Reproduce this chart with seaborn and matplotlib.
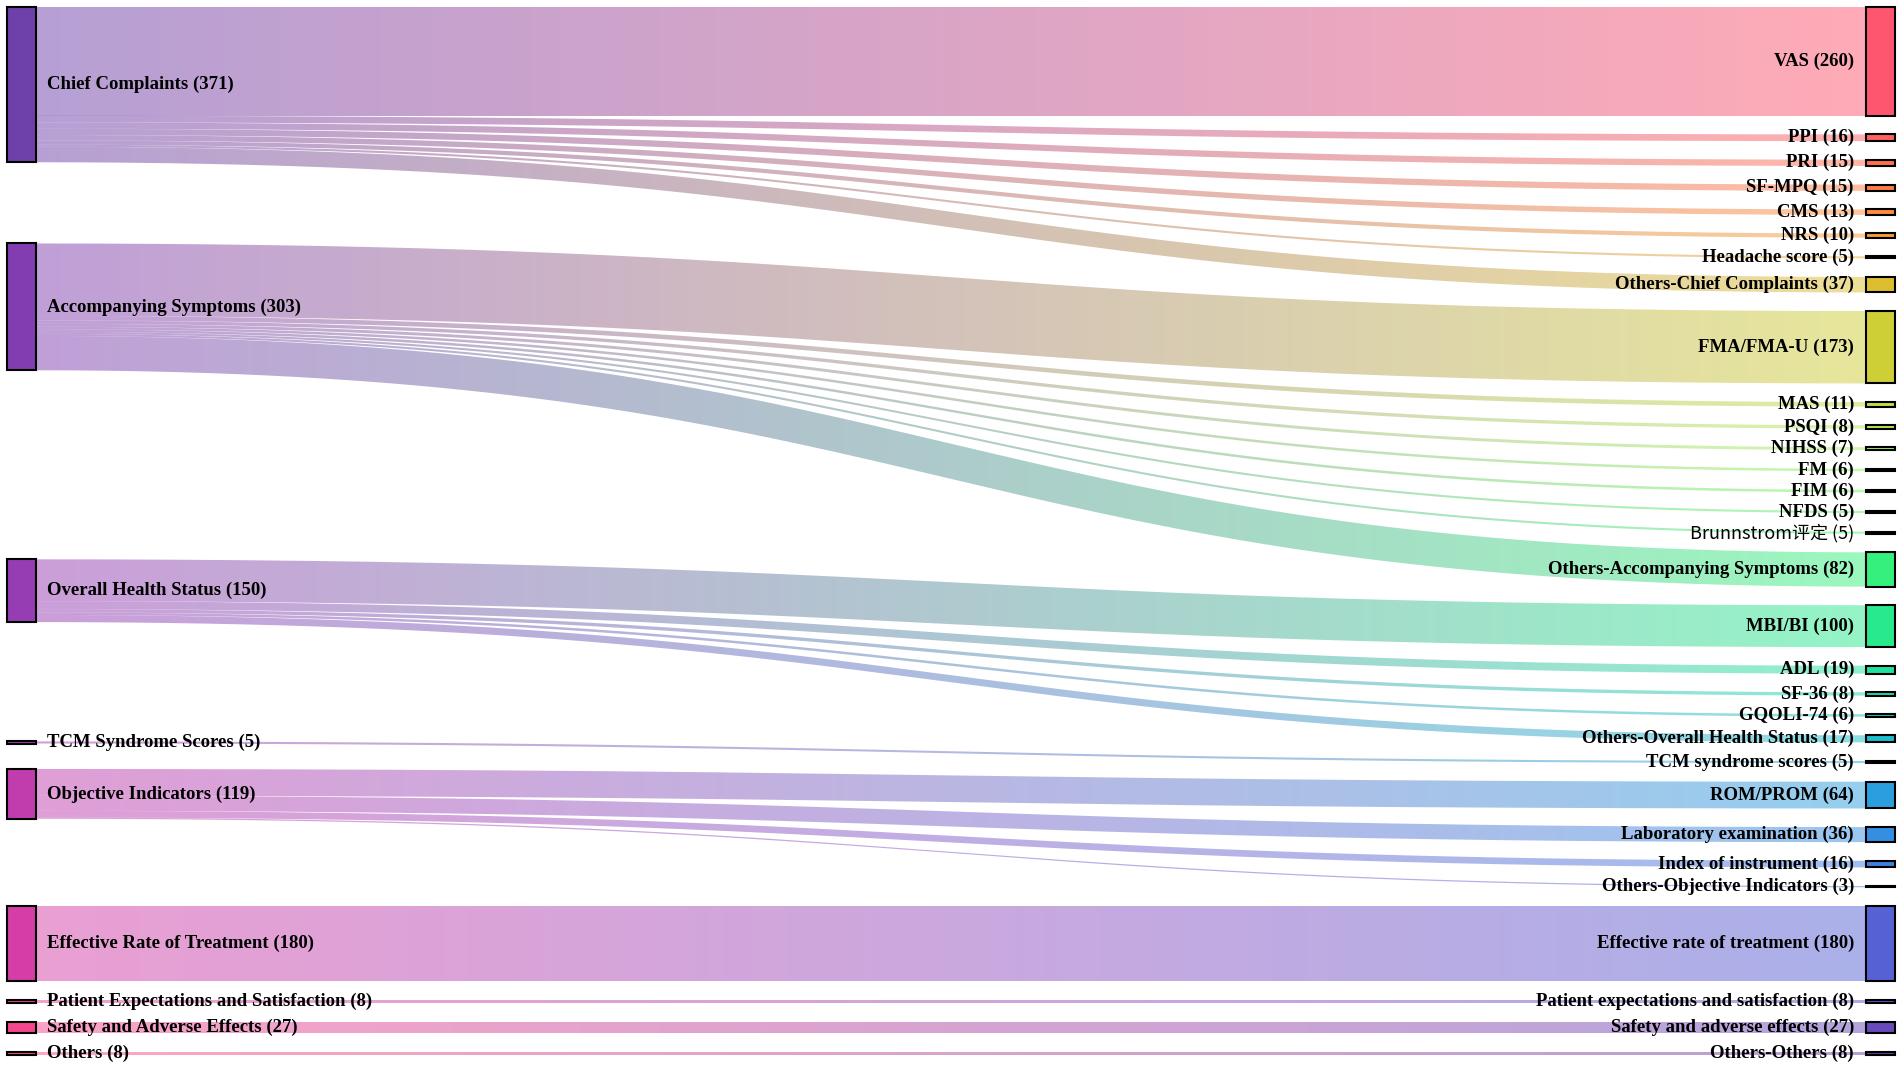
import numpy as np
import matplotlib
matplotlib.use("Agg")
import matplotlib.pyplot as plt
from matplotlib.path import Path
from matplotlib.patches import PathPatch, Rectangle
import seaborn as sns

# left column (outcome categories)
sources = ["Chief Complaints", "Accompanying Symptoms", "Overall Health Status",
           "TCM Syndrome Scores", "Objective Indicators", "Effective Rate of Treatment",
           "Patient Expectations and Satisfaction", "Safety and Adverse Effects", "Others"]

# right column (individual measures) + the category each one belongs to
targets = ["VAS", "PPI", "PRI", "SF-MPQ", "CMS", "NRS", "Headache score",
           "Others-Chief Complaints",
           "FMA/FMA-U", "MAS", "PSQI", "NIHSS", "FM", "FIM", "NFDS", "Brunnstrom评定",
           "Others-Accompanying Symptoms",
           "MBI/BI", "ADL", "SF-36", "GQOLI-74", "Others-Overall Health Status",
           "TCM syndrome scores",
           "ROM/PROM", "Laboratory examination", "Index of instrument",
           "Others-Objective Indicators",
           "Effective rate of treatment", "Patient expectations and satisfaction",
           "Safety and adverse effects", "Others-Others"]
target_group = (["Chief Complaints"] * 8 + ["Accompanying Symptoms"] * 9
                + ["Overall Health Status"] * 5 + ["TCM Syndrome Scores"]
                + ["Objective Indicators"] * 4
                + ["Effective Rate of Treatment", "Patient Expectations and Satisfaction",
                   "Safety and Adverse Effects", "Others"])
target_values = [260, 16, 15, 15, 13, 10, 5, 37,
                 173, 11, 8, 7, 6, 6, 5, 5, 82,
                 100, 19, 8, 6, 17,
                 5,
                 64, 36, 16, 3,
                 180, 8, 27, 8]

# ---- layout settings (pixels) ----
W, H = 1902, 1068
X0, X1, Y0, Y1 = 7, 1895, 7, 1055
NODE_W = 29
PAD = 18.6
ITER = 3
FS = 13.5


def rainbow(t):
    # d3.interpolateRainbow (cubehelix)
    ts = abs(t - 0.5)
    h = np.radians(360 * t - 100 + 120)
    s = 1.5 - 1.5 * ts
    l = 0.8 - 0.9 * ts
    a = s * l * (1 - l)
    c, sn = np.cos(h), np.sin(h)
    r = l + a * (-0.14861 * c + 1.78277 * sn)
    g = l + a * (-0.29227 * c - 0.90649 * sn)
    b = l + a * (1.97294 * c)
    return tuple(float(np.clip(v, 0, 1)) for v in (r, g, b))


names = sources + targets
n_src = len(sources)
N = len(names)
link_s = [sources.index(g) for g in target_group]
link_t = [n_src + i for i in range(len(targets))]
link_v = list(target_values)
L = len(link_v)

value = np.zeros(N)
for s, t, v in zip(link_s, link_t, link_v):
    value[s] += v
    value[t] += v
layer = [0] * n_src + [1] * len(targets)
src_links = {i: [l for l in range(L) if link_s[l] == i] for i in range(N)}
tgt_links = {i: [l for l in range(L) if link_t[l] == i] for i in range(N)}
columns = [list(range(n_src)), list(range(n_src, N))]

ky = min((Y1 - Y0 - (len(c) - 1) * PAD) / value[c].sum() for c in columns)
lw = np.array(link_v) * ky
ny0 = np.zeros(N)
ny1 = np.zeros(N)
for col in columns:
    y = Y0
    for n in col:
        ny0[n] = y
        ny1[n] = y + value[n] * ky
        y = ny1[n] + PAD
    step = (Y1 - y + PAD) / (len(col) + 1)
    for i, n in enumerate(col):
        ny0[n] += step * (i + 1)
        ny1[n] += step * (i + 1)


def source_top(s, t):
    y = ny0[t] - (len(tgt_links[t]) - 1) * PAD / 2
    for l in tgt_links[t]:
        if link_s[l] == s:
            break
        y += lw[l] + PAD / 2
    for l in src_links[s]:
        if link_t[l] == t:
            break
        y -= lw[l]
    return y


def target_top(s, t):
    y = ny0[s] - (len(src_links[s]) - 1) * PAD / 2
    for l in src_links[s]:
        if link_t[l] == t:
            break
        y += lw[l] + PAD / 2
    for l in tgt_links[t]:
        if link_s[l] == s:
            break
        y -= lw[l]
    return y


def top_to_bottom(nodes, y, i, alpha):
    for n in nodes[i:]:
        dy = (y - ny0[n]) * alpha
        if dy > 1e-6:
            ny0[n] += dy
            ny1[n] += dy
        y = ny1[n] + PAD


def bottom_to_top(nodes, y, i, alpha):
    while i >= 0:
        n = nodes[i]
        dy = (ny1[n] - y) * alpha
        if dy > 1e-6:
            ny0[n] -= dy
            ny1[n] -= dy
        y = ny0[n] - PAD
        i -= 1


def resolve(nodes, alpha):
    i = len(nodes) >> 1
    sub = nodes[i]
    bottom_to_top(nodes, ny0[sub] - PAD, i - 1, alpha)
    top_to_bottom(nodes, ny1[sub] + PAD, i + 1, alpha)
    bottom_to_top(nodes, Y1, len(nodes) - 1, alpha)
    top_to_bottom(nodes, Y0, 0, alpha)


# d3-sankey style relaxation, node order kept as given
for it in range(ITER):
    alpha = 0.99 ** it
    beta = max(1 - alpha, (it + 1) / ITER)
    for n in columns[0]:
        ws = sum(link_v[l] for l in src_links[n])
        y = sum(source_top(n, link_t[l]) * link_v[l] for l in src_links[n]) / ws
        d = (y - ny0[n]) * alpha
        ny0[n] += d
        ny1[n] += d
    resolve(columns[0], beta)
    for n in columns[1]:
        ws = sum(link_v[l] for l in tgt_links[n])
        y = sum(target_top(link_s[l], n) * link_v[l] for l in tgt_links[n]) / ws
        d = (y - ny0[n]) * alpha
        ny0[n] += d
        ny1[n] += d
    resolve(columns[1], beta)

ly0 = np.zeros(L)
ly1 = np.zeros(L)
for n in range(N):
    y = ny0[n]
    for l in src_links[n]:
        ly0[l] = y + lw[l] / 2
        y += lw[l]
    y = ny0[n]
    for l in tgt_links[n]:
        ly1[l] = y + lw[l] / 2
        y += lw[l]

nx0 = np.array([X0 if layer[n] == 0 else X1 - NODE_W for n in range(N)], float)
nx1 = nx0 + NODE_W
colors = [rainbow(i / (N - 1)) for i in range(N)]

# ---- drawing ----
sns.set_style("white")
fig = plt.figure(figsize=(W / 100, H / 100), dpi=100)
ax = fig.add_axes([0, 0, 1, 1])
ax.set_xlim(0, W)
ax.set_ylim(H, 0)
ax.axis("off")

grad = np.linspace(0, 1, 256).reshape(1, -1).repeat(2, axis=0)
tt = np.linspace(0, 1, 300)
for l in range(L):
    s, t = link_s[l], link_t[l]
    xa, xb = nx1[s], nx0[t]
    ya, yb = ly0[l], ly1[l]
    xm = (xa + xb) / 2
    # cubic bezier centre line, like d3.linkHorizontal
    bx = (1 - tt) ** 3 * xa + 3 * (1 - tt) ** 2 * tt * xm + 3 * (1 - tt) * tt ** 2 * xm + tt ** 3 * xb
    by = (1 - tt) ** 3 * ya + 3 * (1 - tt) ** 2 * tt * ya + 3 * (1 - tt) * tt ** 2 * yb + tt ** 3 * yb
    dx = np.gradient(bx)
    dy = np.gradient(by)
    nrm = np.hypot(dx, dy)
    ox, oy = -dy / nrm * lw[l] / 2, dx / nrm * lw[l] / 2
    px = np.concatenate([bx + ox, (bx - ox)[::-1]])
    py = np.concatenate([by + oy, (by - oy)[::-1]])
    patch = PathPatch(Path(np.column_stack([px, py])), facecolor="none", edgecolor="none")
    ax.add_patch(patch)
    cmap = sns.blend_palette([colors[s], colors[t]], n_colors=256, as_cmap=True)
    im = ax.imshow(grad, cmap=cmap, aspect="auto", alpha=0.5, interpolation="bilinear",
                   extent=(xa, xb, py.max() + 1, py.min() - 1), zorder=1)
    im.set_clip_path(patch)

for n in range(N):
    ax.add_patch(Rectangle((nx0[n], ny0[n]), NODE_W, ny1[n] - ny0[n],
                           facecolor=colors[n], edgecolor="black", linewidth=1.5, zorder=3))
    label = f"{names[n]} ({int(value[n])})"
    cjk = any(ord(ch) > 0x2e80 for ch in names[n])
    if cjk:
        kw = dict(family=["Noto Sans CJK SC", "DejaVu Sans"], fontweight="normal", fontsize=13)
    else:
        kw = dict(family=["Liberation Serif", "DejaVu Serif"], fontweight="bold", fontsize=FS)
    yc = (ny0[n] + ny1[n]) / 2
    if layer[n] == 0:
        ax.text(nx1[n] + 11, yc, label, ha="left", va="center", color="black", zorder=4, **kw)
    else:
        ax.text(nx0[n] - 12, yc, label, ha="right", va="center", color="black", zorder=4, **kw)

ax.set_xlim(0, W)
ax.set_ylim(H, 0)
fig.savefig("out.png", dpi=100, facecolor="white")
